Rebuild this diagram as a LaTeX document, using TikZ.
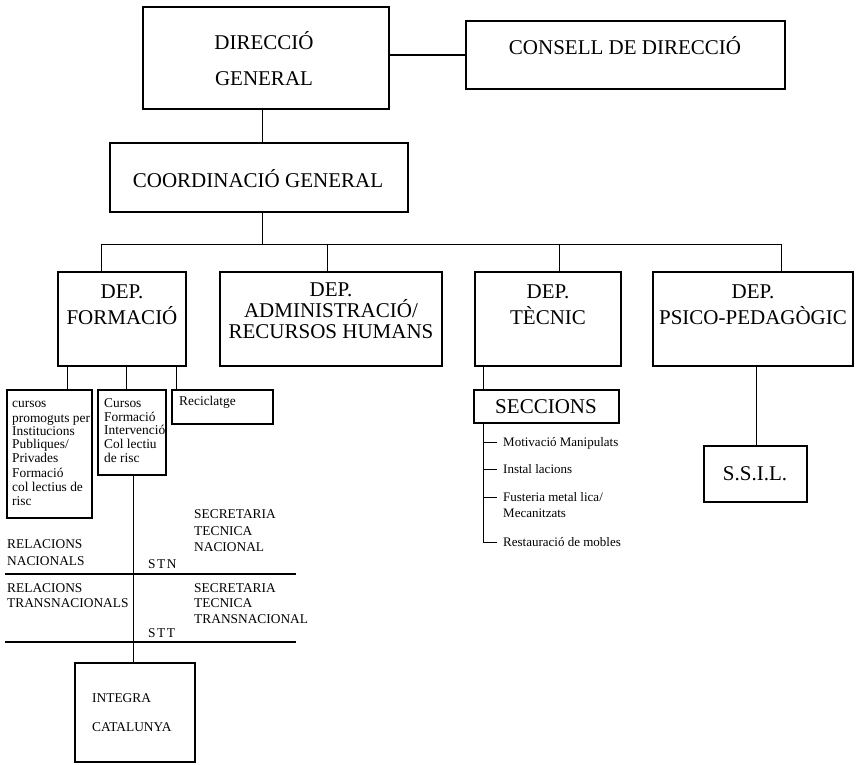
\documentclass[tikz,border=0pt]{standalone}
\usepackage{fontspec}
\setmainfont{Liberation Serif}
\tikzset{
  bigbox/.style={draw, line width=2.6pt, inner sep=0pt, outer sep=0pt},
  midbox/.style={draw, line width=1.4pt, inner sep=0pt, outer sep=0pt},
  thinbox/.style={draw, line width=1.2pt, inner sep=0pt, outer sep=0pt},
  conn/.style={line width=1pt},
  rule/.style={line width=1.3pt},
  bigtxt/.style={inner sep=0pt, anchor=base, font=\fontsize{21}{25}\selectfont},
  smalltxt/.style={inner sep=0pt, anchor=base west, font=\fontsize{13.4}{14}\selectfont},
  listtxt/.style={inner sep=0pt, anchor=base west, font=\fontsize{13}{14}\selectfont},
}
\newcommand\orgbox[6]{\node[#1, minimum width={#5-#3}, minimum height={#6-#4}] (#2) at ({(#3+#5)/2},{(#4+#6)/2}) {};}
\begin{document}
\begin{tikzpicture}[x=1pt,y=-1pt]
\useasboundingbox (0,0) rectangle (859,764);
\fill[white] (0,0) rectangle (859,764);

% boxes
\orgbox{bigbox}{dg}{143}{7}{389}{109}
\orgbox{bigbox}{cd}{466}{21}{785}{89}
\orgbox{bigbox}{cg}{110}{143}{408}{212}
\orgbox{bigbox}{fm}{58}{272}{186}{366}
\orgbox{bigbox}{adm}{220}{272}{442}{366}
\orgbox{bigbox}{tec}{475}{272}{621}{366}
\orgbox{bigbox}{psi}{653}{272}{853}{366}
\orgbox{thinbox}{cur}{7}{390}{92}{518}
\orgbox{thinbox}{cfi}{98}{390}{166}{475}
\orgbox{thinbox}{rec}{172}{390}{273}{424}
\orgbox{midbox}{sec}{474}{390}{619}{423}
\orgbox{thinbox}{ssil}{704}{446}{807}{502}
\orgbox{thinbox}{int}{75}{663}{195}{762}

% connectors, top
\draw[line width=1.6pt] (dg.east |- cd.west) -- (cd.west);
\coordinate (xdg) at (262,0);
\draw[conn] (dg.south -| xdg) -- (cg.north -| xdg);
\coordinate (bus) at (262,244);
\coordinate (busL) at (101,244);
\coordinate (busR) at (781,244);
\coordinate (bA) at (327,244);
\coordinate (bT) at (559,244);
\draw[conn] (cg.south -| bus) -- (bus);
\draw[conn] (fm.north -| busL) -- (busL) -- (busR) -- (psi.north -| busR);
\draw[conn] (bA) -- (adm.north -| bA);
\draw[conn] (bT) -- (tec.north -| bT);

% under FORMACIO
\coordinate (f1) at (67,0);
\coordinate (f2) at (126,0);
\coordinate (f3) at (176,0);
\draw[conn] (fm.south -| f1) -- (cur.north -| f1);
\draw[conn] (fm.south -| f2) -- (cfi.north -| f2);
\draw[conn] (fm.south -| f3) -- (rec.north -| f3);
\coordinate (v) at (133,0);
\draw[conn] (cfi.south -| v) -- (int.north -| v);
\coordinate (h1a) at (5,574);
\coordinate (h1b) at (296,574);
\coordinate (h2a) at (5,642);
\coordinate (h2b) at (296,642);
\draw[rule] (h1a) -- (h1b);
\draw[rule] (h2a) -- (h2b);

% under TECNIC
\coordinate (t) at (483,0);
\coordinate (tEnd) at (483,542);
\draw[conn] (tec.south -| t) -- (sec.north -| t);
\draw[conn] (sec.south -| t) -- (tEnd) -- (497,542);
\draw[conn] (483,442) -- (497,442);
\draw[conn] (483,469) -- (497,469);
\draw[conn] (483,497) -- (497,497);

% under PSICO
\coordinate (p) at (756,0);
\draw[conn] (psi.south -| p) -- (ssil.north -| p);

% big texts
\node[bigtxt] (tdg1) at (264,49) {DIRECCIÓ};
\node[bigtxt] (tdg2) at (264,85) {GENERAL};
\node[bigtxt] (tcd) at (625,54) {CONSELL DE DIRECCIÓ};
\node[bigtxt] (tcg) at (258,187) {COORDINACIÓ GENERAL};
\node[bigtxt] (tfm1) at (122,298) {DEP.};
\node[bigtxt] (tfm2) at (122,324) {FORMACIÓ};
\node[bigtxt] (tad1) at (331,296) {DEP.};
\node[bigtxt] (tad2) at (331,317) {ADMINISTRACIÓ/};
\node[bigtxt] (tad3) at (331,338) {RECURSOS HUMANS};
\node[bigtxt] (tte1) at (548,298) {DEP.};
\node[bigtxt] (tte2) at (548,324) {TÈCNIC};
\node[bigtxt] (tps1) at (753,298) {DEP.};
\node[bigtxt] (tps2) at (753,324) {PSICO-PEDAGÒGIC};
\node[bigtxt] (tsec) at (546,413) {SECCIONS};
\node[bigtxt] (tssil) at (755,480) {S.S.I.L.};

% small box texts
\node[smalltxt] (c1) at (12,407) {cursos};
\node[smalltxt] (c2) at (12,422) {promoguts per};
\node[smalltxt] (c3) at (12,435) {Institucions};
\node[smalltxt] (c4) at (12,448) {Publiques/};
\node[smalltxt] (c5) at (12,462) {Privades};
\node[smalltxt] (c6) at (12,477) {Formació};
\node[smalltxt] (c7) at (12,491) {col lectius de};
\node[smalltxt] (c8) at (12,505) {risc};
\node[smalltxt] (d1) at (104,407) {Cursos};
\node[smalltxt] (d2) at (104,421) {Formació};
\node[smalltxt] (d3) at (104,434) {Intervenció};
\node[smalltxt] (d4) at (104,448) {Col lectiu};
\node[smalltxt] (d5) at (104,462) {de risc};
\node[smalltxt] (r1) at (179,405) {Reciclatge};

% relations block
\node[smalltxt] (rn1) at (7,548) {RELACIONS};
\node[smalltxt] (rn2) at (7,565) {NACIONALS};
\node[smalltxt] (sn1) at (194,518) {SECRETARIA};
\node[smalltxt] (sn2) at (194,535) {TECNICA};
\node[smalltxt] (sn3) at (194,551) {NACIONAL};
\node[smalltxt] (stn) at (148,568) {S\kern1.5pt T\kern1.5pt N};
\node[smalltxt] (rt1) at (7,592) {RELACIONS};
\node[smalltxt] (rt2) at (7,607) {TRANSNACIONALS};
\node[smalltxt] (st1) at (194,592) {SECRETARIA};
\node[smalltxt] (st2) at (194,607) {TECNICA};
\node[smalltxt] (st3) at (194,623) {TRANSNACIONAL};
\node[smalltxt] (stt) at (148,637) {S\kern1.5pt T\kern1.5pt T};
\node[smalltxt] (i1) at (92,702) {INTEGRA};
\node[smalltxt] (i2) at (92,731) {CATALUNYA};

% seccions list
\node[listtxt] (m1) at (503,446) {Motivació Manipulats};
\node[listtxt] (m2) at (503,473) {Instal lacions};
\node[listtxt] (m3) at (503,501) {Fusteria metal lica/};
\node[listtxt] (m4) at (503,517) {Mecanitzats};
\node[listtxt] (m5) at (503,546) {Restauració de mobles};
\end{tikzpicture}
\end{document}
